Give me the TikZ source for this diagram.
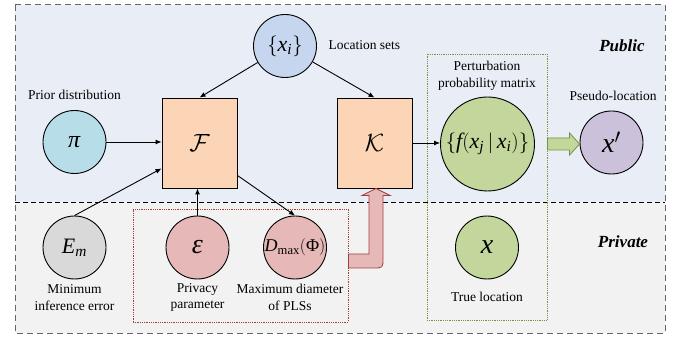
\documentclass[tikz,border=0pt]{standalone}
\usepackage{amsmath}
\usepackage{fontspec}
\setmainfont{Liberation Serif}
\usetikzlibrary{calc,arrows.meta}

\definecolor{pubbg}{HTML}{E9EDF5}
\definecolor{privbg}{HTML}{F2F2F2}
\definecolor{setblue}{HTML}{C6D6EE}
\definecolor{priorcyan}{HTML}{B7DDE8}
\definecolor{boxpeach}{HTML}{FBD5B5}
\definecolor{matgreen}{HTML}{C3D69B}
\definecolor{pseudopurple}{HTML}{CCC1DA}
\definecolor{errgray}{HTML}{D9D9D9}
\definecolor{privred}{HTML}{E6B9B8}
\definecolor{darkred}{HTML}{A0403C}
\definecolor{darkgreen}{HTML}{77933C}

\newcommand{\tv}[1]{\textit{#1}}

\begin{document}
\begin{tikzpicture}[x=1pt,y=-1pt,font=\fontsize{13.5}{16.5}\selectfont,
	every text node part/.style={align=center},
	var/.style={circle,draw,line width=0.9pt,minimum size=63pt,inner sep=0pt,font=\fontsize{24}{24}\selectfont},
	op/.style={draw,line width=0.9pt,fill=boxpeach,minimum width=75pt,minimum height=90pt,inner sep=0pt,font=\fontsize{52}{52}\selectfont},
	conn/.style={line width=0.9pt,-{Latex[length=6pt,width=5pt]}},
	region/.style={font=\fontsize{17}{17}\selectfont\bfseries\itshape}]
	\useasboundingbox (0,0) rectangle (683,339);

	% public / private areas
	\fill[pubbg] (15,5) rectangle (665,202);
	\fill[privbg] (15,202) rectangle (665,333);
	\draw[line width=0.9pt,dash pattern=on 5pt off 3pt] (15,202) -- (665,202);
	\draw[black!60,line width=1pt,dash pattern=on 6pt off 4pt] (15,5) rectangle (665,333);

	\node (matbox) [draw=darkgreen,densely dotted,line width=0.8pt,minimum width=120pt,minimum height=266pt] at (487,187) {};
	\node (privbox) [draw=darkred,densely dotted,line width=0.8pt,minimum width=215pt,minimum height=113pt] at (240.5,265.5) {};

	\node (publbl) [region] at (622,46) {Public};
	\node (privlbl) [region] at (623,242) {Private};

	% public nodes
	\node (xi) [var,fill=setblue,font=\fontsize{22}{22}\selectfont] at (285,46) {$\{\tv{x}_{\tv{i}}\}$};
	\node (xilbl) [right] at (325,45) {Location sets};
	\node (pi) [var,fill=priorcyan] at (74.5,142) {\tv{π}};
	\node (pilbl) at (74.5,95) {Prior distribution};
	\node (F) [op] at (199.5,143) {$\mathcal{F}$};
	\node (K) [op] at (374.5,143) {$\mathcal{K}$};
	\node (f) [var,fill=matgreen,minimum size=94pt,font=\fontsize{22}{22}\selectfont] at (487.5,144) {$\{\tv{f}(\tv{x}_{\tv{j}}\,|\,\tv{x}_{\tv{i}})\}$};
	\node (flbl) at (487,76) {Perturbation\\probability matrix};
	\node (xp) [var,fill=pseudopurple,font=\fontsize{28}{28}\selectfont] at (611.5,142.5) {\tv{x}$'$};
	\node (xplbl) at (613,96) {Pseudo-location};

	% private nodes
	\node (Em) [var,fill=errgray,font=\fontsize{22}{22}\selectfont] at (74.5,247.5) {$\tv{E}_{\tv{m}}$};
	\node (Emlbl) at (74.5,297.5) {Minimum\\inference error};
	\node (eps) [var,fill=privred,font=\fontsize{28}{28}\selectfont] at (197.5,247.5) {\tv{ε}};
	\node (epslbl) at (197.5,297.5) {Privacy\\parameter};
	\node (D) [var,fill=privred,font=\fontsize{18}{18}\selectfont] at (295,247.5) {$\tv{D}_{\textup{max}}(\textup{Φ})$};
	\node (Dlbl) at (290,297.5) {Maximum diameter\\of PLSs};
	\node (x) [var,fill=matgreen,font=\fontsize{28}{28}\selectfont] at (487,247.5) {\tv{x}};
	\node (xlbl) at (487,297) {True location};

	% connectors
	\draw[conn] (xi) -- (F.north);
	\draw[conn] (xi) -- (K.north);
	\draw[conn] (pi) -- (pi -| F.west);
	\draw[conn] (Em.north) -- ($(F.south west)+(0,-20)$);
	\draw[conn] (eps.north) -- (eps.north |- F.south);
	\draw[conn] ($(F.south east)+(0,-13)$) -- (D.north);
	\draw[conn] (K) -- (K -| f.west);

	% block arrows
	\draw[fill=matgreen,draw=darkgreen,line width=0.8pt] let \p1=(matbox.east |- f.center), \p2=(xp.west) in
		(\x1,\y1+6pt) -- (\x2-10pt,\y1+6pt) -- (\x2-10pt,\y1+11pt) -- (\x2,\y1)
		-- (\x2-10pt,\y1-11pt) -- (\x2-10pt,\y1-6pt) -- (\x1,\y1-6pt) -- cycle;
	\draw[fill=privred,draw=darkred,line width=0.8pt] let \p1=(privbox.east), \p2=(K.south) in
		(\x1,\y1+11.5pt) -- (\x2-5.5pt,\y1+11.5pt) -- (\x2-5.5pt,\y2-7pt) -- (\x2-12.5pt,\y2-7pt)
		-- (\x2+1.5pt,\y2) -- (\x2+15.5pt,\y2-7pt) -- (\x2+8.5pt,\y2-7pt) -- (\x2+8.5pt,\y1+7.5pt)
		.. controls (\x2+8.5pt,\y1-2.5pt) .. (\x2-1.5pt,\y1-2.5pt) -- (\x1,\y1-2.5pt) -- cycle;
\end{tikzpicture}
\end{document}
